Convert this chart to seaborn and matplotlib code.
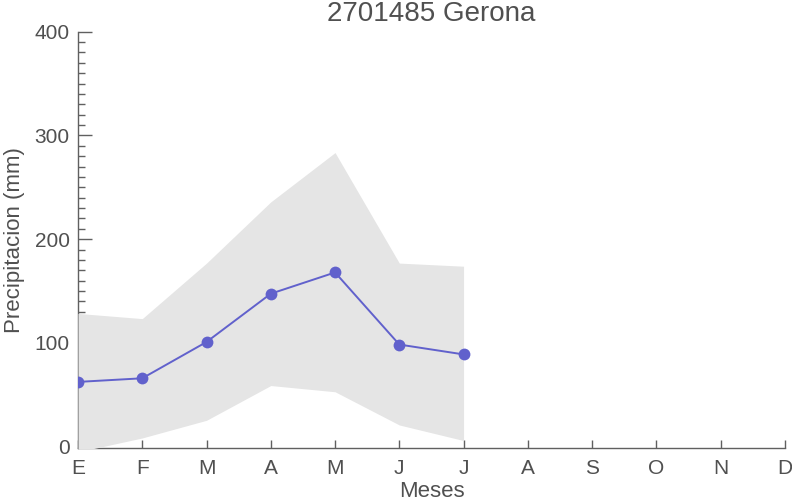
import numpy as np
import pandas as pd
import matplotlib
matplotlib.use('Agg')
import matplotlib.pyplot as plt
import seaborn as sns
from matplotlib.ticker import MultipleLocator

# ── data ──
months      = ['E', 'F', 'M', 'A', 'M', 'J', 'J', 'A', 'S', 'O', 'N', 'D']
month_num   = [1, 2, 3, 4, 5, 6, 7]
prec_mean   = [62.5, 66, 101, 147.5, 168, 98.5, 89]
prec_max    = [128.5, 123.5, 177, 236, 283.5, 177, 174]
prec_min    = [-5, 8.5, 25.5, 59, 53, 21, 6]

df = pd.DataFrame({'mes': month_num, 'media': prec_mean})

# ── style ──
sns.set_theme(style='white')
plt.rcParams['font.family'] = ['Liberation Sans', 'DejaVu Sans']
text_col  = '#505050'
axis_col  = '#606060'
line_col  = '#6161cc'
band_col  = '#e5e5e5'

fig = plt.figure(figsize=(7.92, 5.03), dpi=100)
ax = fig.add_axes([0.0985, 0.1087, 0.8925, 0.8283])

# min/max band (drawn over the axis ticks, like the reference)
ax.fill_between(month_num, prec_min, prec_max, color=band_col, lw=0, zorder=3)

sns.lineplot(data=df, x='mes', y='media', ax=ax, color=line_col,
             lw=1.4, marker='o', markersize=8.5, markeredgewidth=0,
             zorder=4)

ax.set_xlim(1, 12)
ax.set_ylim(-1.5, 400)
ax.set_xticks(range(1, 13))
ax.set_xticklabels(months)
ax.yaxis.set_major_locator(MultipleLocator(100))
ax.yaxis.set_minor_locator(MultipleLocator(10))

for s in ['top', 'right']:
    ax.spines[s].set_visible(False)
for s in ['left', 'bottom']:
    ax.spines[s].set_color(axis_col)
    ax.spines[s].set_linewidth(1.0)

ax.tick_params(axis='y', which='major', direction='in', length=10, width=1,
               color=axis_col, labelsize=15, labelcolor=text_col, pad=6, left=True)
ax.tick_params(axis='y', which='minor', direction='in', length=5, width=1,
               color=axis_col, left=True)
ax.tick_params(axis='x', which='major', direction='in', length=6, width=1,
               color=axis_col, labelsize=15, labelcolor=text_col, pad=8, bottom=True)

ax.set_xlabel('Meses', fontsize=16, color=text_col, labelpad=1.5)
ax.set_ylabel('Precipitacion (mm)', fontsize=16, color=text_col, labelpad=7)
ax.set_title('2701485 Gerona', fontsize=20, color=text_col, pad=8)

fig.savefig('out.png', dpi=100)
